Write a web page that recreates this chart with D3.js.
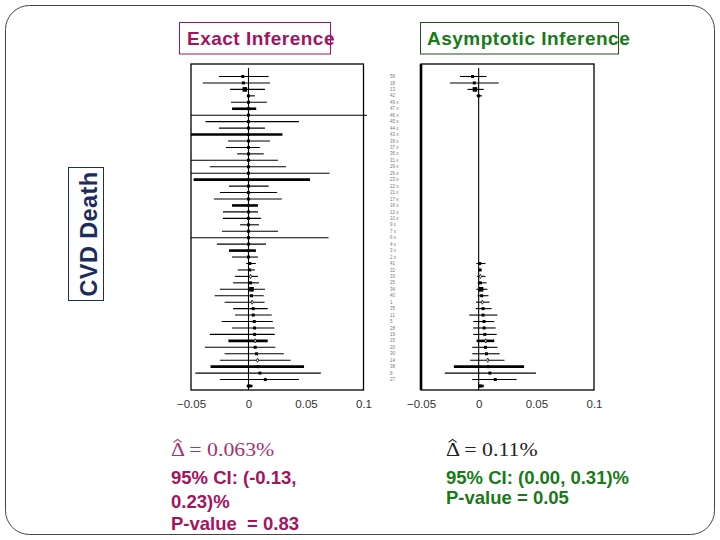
<!DOCTYPE html>
<title>CVD Death forest plots</title>
<body>
<script src="https://d3js.org/d3.v7.min.js" charset="utf-8"></script>
<style>
  html, body {
    width: 100%;
    height: 100%;
    margin: 0;
    overflow: hidden;
    background: #fff;
  }
</style>
<script>
  // Study labels, top to bottom. The last row is the pooled estimate (no label).
  var studies = ["56", "18", "13", "42", "49x", "47x", "46x", "45x", "44x", "43x",
    "39x", "37x", "36x", "31x", "29x", "26x", "23x", "22x", "21x", "17x", "16x",
    "12x", "10x", "9x", "7x", "6x", "4x", "3x", "2x", "41", "32", "33", "25", "34",
    "40", "1", "35", "11", "5", "28", "19", "15", "20", "30", "14", "38", "8", "27", ""];

  // Exact inference: risk difference and 95% CI per study
  var exactEst = [-0.0050, -0.0044, -0.0032, 0, 0, 0, 0, 0, 0, 0,
    0, 0, 0, 0, 0, 0, 0, 0, 0, 0, 0,
    0, 0, 0, 0, 0, 0, 0, 0, 0.0012, 0.0010, 0.0018, 0.0018, 0.0026,
    0.0026, 0.0032, 0.0041, 0.0041, 0.0050, 0.0053, 0.0053, 0.0058, 0.0058, 0.0070, 0.0079, 0.0085, 0.0099, 0.0146, 0.0006];
  var exactLo = [-0.0257, -0.0398, -0.0160, -0.0015, -0.0152, -0.0143, -0.0500, -0.0374, -0.0257, -0.0500,
    -0.0178, -0.0196, -0.0099, -0.0500, -0.0336, -0.0500, -0.0477, -0.0170, -0.0249, -0.0301, -0.0143,
    -0.0222, -0.0222, -0.0073, -0.0231, -0.0500, -0.0275, -0.0170, -0.0143, -0.0020, -0.0094, -0.0117, -0.0134, -0.0249,
    -0.0295, -0.0208, -0.0134, -0.0117, -0.0234, -0.0143, -0.0336, -0.0175, -0.0380, -0.0208, -0.0249, -0.0330, -0.0462, -0.0249, -0.0015];
  var exactHi = [0.0175, 0.0187, 0.0143, 0.0056, 0.0160, 0.0067, 0.1030, 0.0439, 0.0143, 0.0295,
    0.0187, 0.0099, 0.0132, 0.0257, 0.0327, 0.0705, 0.0535, 0.0175, 0.0249, 0.0290, 0.0082,
    0.0082, 0.0108, 0.0091, 0.0257, 0.0696, 0.0152, 0.0064, 0.0082, 0.0064, 0.0056, 0.0082, 0.0091, 0.0143,
    0.0132, 0.0140, 0.0167, 0.0202, 0.0211, 0.0225, 0.0228, 0.0167, 0.0234, 0.0307, 0.0366, 0.0483, 0.0629, 0.0439, 0.0035];
  var exactBold = [5, 9, 16, 20, 27, 41, 45, 48];

  // Asymptotic inference: studies with zero events ("x") drop out
  var asymEst = [-0.0053, -0.0038, -0.0032, 0, null, null, null, null, null, null,
    null, null, null, null, null, null, null, null, null, null, null,
    null, null, null, null, null, null, null, null, 0.0009, 0.0012, 0.0015, 0.0015, 0.0021,
    0.0026, 0.0032, 0.0038, 0.0038, 0.0047, 0.0047, 0.0053, 0.0062, 0.0059, 0.0068, 0.0079, 0.0082, 0.0097, 0.0144, 0.0015];
  var asymLo = [-0.0162, -0.0250, -0.0097, -0.0020, null, null, null, null, null, null,
    null, null, null, null, null, null, null, null, null, null, null,
    null, null, null, null, null, null, null, null, -0.0020, 0.0000, -0.0015, -0.0009, -0.0020,
    -0.0009, -0.0024, -0.0026, -0.0082, -0.0047, -0.0047, -0.0047, -0.0018, -0.0056, -0.0056, -0.0074, -0.0215, -0.0294, -0.0056, 0.0000];
  var asymHi = [0.0068, 0.0174, 0.0044, 0.0030, null, null, null, null, null, null,
    null, null, null, null, null, null, null, null, null, null, null,
    null, null, null, null, null, null, null, null, 0.0059, 0.0024, 0.0059, 0.0068, 0.0076,
    0.0085, 0.0094, 0.0112, 0.0162, 0.0135, 0.0147, 0.0156, 0.0135, 0.0162, 0.0182, 0.0224, 0.0394, 0.0497, 0.0329, 0.0044];
  var asymBold = [41, 45, 48];

  var bigMarks = [2, 33];          // larger squares
  var diamondMarks = [31, 35, 41, 44];

  var tickValues = [-0.05, 0, 0.05, 0.1];
  var tickLabels = ["\u22120.05", "0", "0.05", "0.1"];

  var maroon = "#a3135f",
    green = "#187a18",
    navy = "#1b2d5c";

  var svg = d3.select("body").append("svg")
    .attr("width", 720)
    .attr("height", 540);

  // slide frame
  svg.append("rect")
    .attr("x", 5.5).attr("y", 5.5)
    .attr("width", 709).attr("height", 529)
    .attr("rx", 24)
    .attr("fill", "none")
    .attr("stroke", "#444");

  var y = d3.scalePoint()
    .domain(d3.range(studies.length))
    .range([76.5, 386]);

  function panel(x0, x1, est, lo, hi, bold, thickLeft) {
    var x = d3.scaleLinear().domain([-0.05, 0.1]).range([x0, x1]);
    var g = svg.append("g");
    var top = 64, bottom = 390;

    g.append("rect")
      .attr("x", x0).attr("y", top)
      .attr("width", x1 - x0).attr("height", bottom - top)
      .attr("fill", "none").attr("stroke", "#000").attr("stroke-width", 1.3);
    if (thickLeft) {
      g.append("line")
        .attr("x1", x0).attr("x2", x0).attr("y1", top).attr("y2", bottom)
        .attr("stroke", "#000").attr("stroke-width", 2.6);
    }

    g.append("line")
      .attr("x1", x(0)).attr("x2", x(0))
      .attr("y1", 68).attr("y2", bottom)
      .attr("stroke", "#000").attr("stroke-width", 1.1);

    var idx = d3.range(studies.length).filter(function(i) { return est[i] !== null; });

    g.selectAll("line.ci")
      .data(idx)
      .enter().append("line")
      .attr("class", "ci")
      .attr("x1", function(i) { return x(lo[i]); })
      .attr("x2", function(i) { return x(hi[i]); })
      .attr("y1", function(i) { return y(i); })
      .attr("y2", function(i) { return y(i); })
      .attr("stroke", "#000")
      .attr("stroke-width", function(i) { return bold.indexOf(i) >= 0 ? 2.6 : 1.1; });

    g.selectAll("path.mark")
      .data(idx)
      .enter().append("path")
      .attr("class", "mark")
      .attr("transform", function(i) { return "translate(" + x(est[i]) + "," + y(i) + ")"; })
      .attr("d", function(i) {
        if (diamondMarks.indexOf(i) >= 0) return d3.symbol(d3.symbolDiamond, 5)();
        var s = bigMarks.indexOf(i) >= 0 ? 2.3 : 1.5;
        return "M" + (-s) + "," + (-s) + "h" + 2 * s + "v" + 2 * s + "h" + (-2 * s) + "z";
      })
      .attr("fill", function(i) { return diamondMarks.indexOf(i) >= 0 ? "#fff" : "#000"; })
      .attr("stroke", "#000")
      .attr("stroke-width", function(i) { return diamondMarks.indexOf(i) >= 0 ? 0.8 : 0; });

    var axis = d3.axisBottom(x)
      .tickValues(tickValues)
      .tickFormat(function(d, k) { return tickLabels[k]; })
      .tickSize(0)
      .tickPadding(10);

    g.append("g")
      .attr("transform", "translate(0," + bottom + ")")
      .call(axis)
      .call(function(a) { a.select(".domain").remove(); })
      .selectAll("text")
      .attr("font-family", "Liberation Sans, Arial, sans-serif")
      .attr("font-size", 11.5)
      .attr("fill", "#333");
  }

  panel(191, 363.5, exactEst, exactLo, exactHi, exactBold, false);
  panel(421, 594, asymEst, asymLo, asymHi, asymBold, true);

  // study labels between the panels
  svg.append("g").selectAll("text")
    .data(studies)
    .enter().append("text")
    .attr("x", 390)
    .attr("y", function(d, i) { return y(i) + 1.6; })
    .attr("font-family", "Liberation Sans, Arial, sans-serif")
    .attr("font-size", 4.5)
    .attr("fill", "#777")
    .text(function(d) { return d.replace("x", " x"); });

  // titles
  function titleBox(bx, bw, tx, label, color, border) {
    svg.append("rect")
      .attr("x", bx).attr("y", 22.5)
      .attr("width", bw).attr("height", 31.5)
      .attr("fill", "none").attr("stroke", border);
    svg.append("text")
      .attr("x", tx).attr("y", 44.5)
      .attr("font-family", "Liberation Sans, Arial, sans-serif")
      .attr("font-weight", "bold")
      .attr("font-size", 19)
      .attr("letter-spacing", 0.5)
      .attr("fill", color)
      .text(label);
  }
  titleBox(179.5, 151, 187, "Exact Inference", maroon, maroon);
  titleBox(420.5, 198, 427, "Asymptotic Inference", green, "#1f4f1f");

  // y label
  svg.append("rect")
    .attr("x", 68.5).attr("y", 167.5)
    .attr("width", 35).attr("height", 133)
    .attr("fill", "none").attr("stroke", navy);
  svg.append("text")
    .attr("transform", "translate(97,234) rotate(-90)")
    .attr("text-anchor", "middle")
    .attr("font-family", "Liberation Sans, Arial, sans-serif")
    .attr("font-weight", "bold")
    .attr("font-size", 23.5)
    .attr("letter-spacing", 0.4)
    .attr("fill", navy)
    .text("CVD Death");

  // estimate equations: Delta with a hat, then the value
  function equation(tx, ty, value, color) {
    var eq = svg.append("g")
      .attr("transform", "translate(" + tx + "," + ty + ") scale(1.18,1)");
    eq.append("text")
      .attr("font-family", "Liberation Serif, Times New Roman, serif")
      .attr("font-size", 18.5)
      .attr("fill", color)
      .attr("xml:space", "preserve")
      .style("white-space", "pre")
      .text("\u0394 = " + value);
    eq.append("path")
      .attr("d", "M2.2,-13.6L5.6,-16.6L9,-13.6")
      .attr("fill", "none")
      .attr("stroke", color)
      .attr("stroke-width", 1);
  }
  equation(171, 456, "0.063%", "#a8306f");
  equation(446, 456, "0.11%", "#222");

  function lines(tx, ys, texts, color) {
    svg.append("g").selectAll("text")
      .data(texts)
      .enter().append("text")
      .attr("x", tx)
      .attr("y", function(d, i) { return ys[i]; })
      .attr("font-family", "Liberation Sans, Arial, sans-serif")
      .attr("font-weight", "bold")
      .attr("font-size", 18.5)
      .attr("fill", color)
      .attr("xml:space", "preserve")
      .style("white-space", "pre")
      .text(function(d) { return d; });
  }
  lines(171, [483.5, 507.5, 529.5], ["95% CI: (-0.13,", "0.23)%", "P-value  = 0.83"], maroon);
  lines(446, [484, 503.5], ["95% CI: (0.00, 0.31)%", "P-value = 0.05"], green);
</script>
